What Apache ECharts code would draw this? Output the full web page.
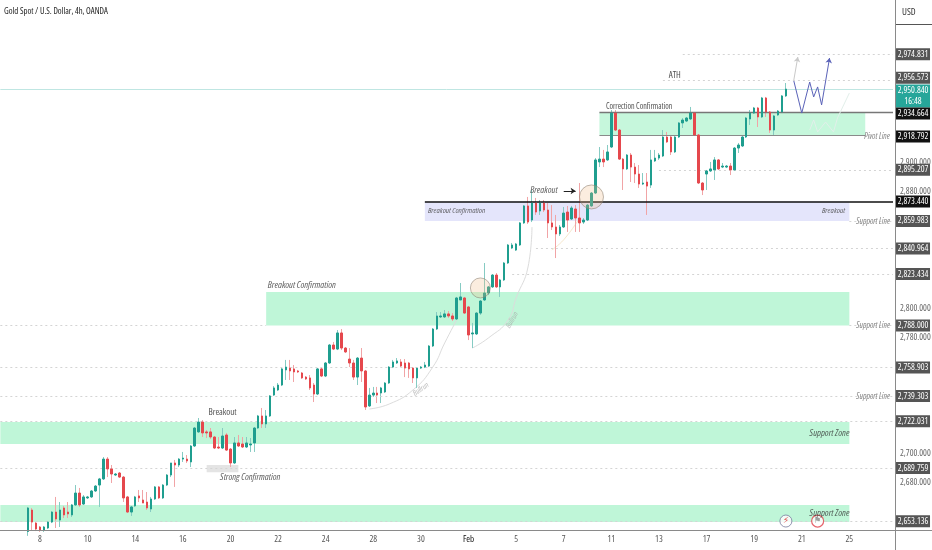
<!DOCTYPE html>
<html><head><meta charset="utf-8"><style>html,body{margin:0;padding:0;background:#fff}#c{width:932px;height:550px}</style>
<script src="https://cdn.jsdelivr.net/npm/echarts@6/dist/echarts.min.js"></script></head><body><div id="c"></div>
<script>
const FIRST_BAR = 7, BAR_COUNT = 226;
const tickLabels = ['8','10','14','16','20','22','24','28','30','Feb','5','7','11','13','17','19','21','25'];
const priceTicks = [2660,2680,2700,2780,2800,2880,2900,2980];
const opens = [2646,2660.8,2651.8,2649.1,2647.0,2648.4,2652.5,2659.4,2653.9,2662.2,
2659.4,2657.4,2664.3,2672.5,2664.9,2669.1,2669.8,2673.9,2678.0,2682.2,
2695.9,2689.1,2684.9,2686.3,2683.5,2669.8,2659.4,2663.6,2670.5,2667.7,
2666.3,2661.5,2668.4,2676.7,2669.1,2678.0,2684.9,2693.2,2691.8,2695.9,
2695.9,2693.9,2704.9,2714.6,2721.4,2714.6,2714.6,2711.1,2704.2,2703.5,
2712.5,2702.8,2693.2,2707.0,2706.3,2704.2,2705.6,2707.0,2717.3,2725.6,
2720.1,2725.6,2740.0,2743.5,2746.9,2757.3,2758.6,2758.0,2756.6,2755.2,
2752.4,2751.8,2746.9,2740.7,2758.0,2753.1,2762.1,2774.5,2771.7,2782.8,
2772.4,2764.8,2762.1,2752.4,2765.5,2756.6,2732.5,2740.0,2741.4,2741.4,
2742.1,2748.3,2759.3,2762.1,2762.8,2762.1,2762.1,2758.6,2751.8,2758.6,
2759.3,2760.0,2773.8,2785.5,2793.8,2793.8,2795.9,2794.5,2792.4,2805.5,
2806.9,2800.7,2782.1,2782.1,2796.5,2805.5,2810.3,2814.5,2822.7,2814.5,
2819.3,2831.0,2841.3,2839.9,2843.4,2858.6,2870.3,2860.6,2872.3,2866.8,
2872.3,2867.5,2858.6,2855.8,2851.0,2855.8,2866.1,2861.3,2868.2,2862.0,
2859.2,2860.6,2870.3,2879.2,2900.6,2902.6,2902.0,2910.9,2934.3,2922.6,
2902.6,2895.8,2905.4,2897.1,2892.3,2885.4,2886.8,2884.7,2901.3,2903.3,
2904.7,2917.8,2917.8,2907.5,2917.8,2927.5,2928.8,2930.2,2934.3,2919.2,
2886.1,2892.3,2894.4,2895.1,2902.0,2897.1,2897.1,2897.8,2895.1,2910.2,
2911.6,2917.8,2930.2,2934.3,2937.8,2931.6,2944.7,2935.0,2922.6,2933.0,
2935.0,2946.1];
const closes = [2662.2,2652.5,2647.7,2647.0,2649.1,2652.5,2659.4,2654.6,2660.8,2657.4,
2658.1,2664.3,2672.5,2664.3,2669.8,2669.8,2673.9,2677.3,2682.2,2695.9,
2689.1,2685.6,2685.6,2683.5,2669.1,2659.4,2662.9,2669.8,2669.1,2665.6,
2662.2,2668.4,2676.7,2669.1,2678.0,2684.9,2693.2,2691.8,2695.9,2696.6,
2694.6,2704.9,2717.3,2721.4,2713.9,2713.9,2711.1,2703.5,2703.5,2711.8,
2702.1,2693.2,2707.0,2704.9,2704.2,2707.0,2706.3,2717.3,2725.6,2720.1,
2725.6,2739.4,2744.9,2746.9,2758.0,2759.3,2756.6,2755.9,2755.9,2751.8,
2751.1,2744.9,2740.7,2758.0,2753.1,2762.1,2774.5,2771.7,2782.8,2772.4,
2769.7,2762.1,2752.4,2765.5,2756.6,2731.8,2740.0,2741.4,2740.0,2744.9,
2748.3,2759.3,2762.8,2763.5,2760.0,2758.6,2758.0,2751.8,2758.6,2759.3,
2760.7,2773.8,2785.5,2794.5,2794.5,2795.9,2794.5,2792.4,2806.9,2807.6,
2796.5,2781.4,2782.8,2796.5,2804.8,2810.3,2814.5,2822.7,2814.5,2819.3,
2831.0,2843.4,2843.4,2844.1,2858.6,2870.3,2859.2,2872.3,2866.1,2872.3,
2867.5,2858.6,2855.8,2851.0,2855.8,2865.4,2860.6,2868.9,2862.0,2858.6,
2860.6,2870.9,2879.2,2902.0,2902.6,2900.6,2907.5,2934.3,2922.6,2902.6,
2895.8,2905.4,2897.1,2892.3,2885.4,2886.1,2884.0,2902.0,2903.3,2905.4,
2917.8,2914.4,2907.5,2917.8,2927.5,2929.5,2930.9,2934.3,2919.2,2886.1,
2881.3,2894.4,2895.8,2902.0,2895.8,2897.8,2897.8,2895.1,2910.2,2912.3,
2917.8,2930.9,2934.3,2937.8,2931.6,2944.7,2935.0,2922.6,2932.3,2935.7,
2946.1,2950.84];
const lows = [2643,2647.0,2646.3,2645.7,2645.7,2647.7,2651.8,2648.4,2649.1,2655.3,
2655.3,2656.0,2663.6,2662.9,2664.3,2668.4,2669.1,2673.2,2662.9,2681.5,
2683.5,2679.4,2684.2,2682.9,2666.3,2658.7,2656.7,2662.9,2666.3,2665.6,
2660.8,2659.4,2667.7,2668.4,2668.4,2677.3,2683.5,2676.7,2690.4,2693.9,
2693.2,2690.4,2704.2,2713.9,2711.1,2710.4,2709.7,2702.8,2702.8,2702.8,
2701.5,2690.4,2692.5,2704.2,2703.5,2703.5,2700.8,2700.8,2716.6,2717.3,
2717.3,2724.9,2739.4,2742.8,2746.2,2750.4,2750.4,2749.0,2755.2,2751.1,
2750.4,2743.5,2735.2,2740.0,2752.4,2752.4,2761.4,2771.0,2771.0,2771.0,
2769.0,2759.3,2750.4,2746.9,2749.0,2729.7,2731.8,2738.7,2734.5,2734.5,
2741.4,2747.6,2758.6,2761.4,2759.3,2752.4,2751.8,2748.3,2744.9,2758.0,
2758.6,2759.3,2773.1,2784.8,2793.1,2793.1,2793.1,2791.0,2791.7,2805.5,
2795.9,2777.9,2772.4,2781.4,2795.2,2804.8,2808.9,2813.8,2813.8,2807.6,
2818.6,2830.3,2840.6,2839.3,2842.7,2857.9,2857.9,2859.2,2864.1,2864.1,
2866.1,2848.2,2853.7,2834.4,2849.6,2855.1,2852.4,2860.6,2852.4,2852.4,
2857.9,2859.9,2869.6,2878.5,2897.1,2897.1,2901.3,2910.2,2921.9,2902.0,
2881.3,2895.1,2886.8,2886.1,2882.7,2884.7,2864.1,2882.7,2900.6,2902.0,
2904.0,2913.7,2905.4,2906.8,2917.1,2924.0,2928.1,2929.5,2918.5,2885.4,
2877.8,2881.3,2893.7,2888.2,2895.1,2896.4,2896.4,2891.6,2894.4,2906.8,
2910.9,2917.1,2926.1,2933.7,2924.7,2930.9,2931.6,2920.6,2919.2,2932.3,
2934.3,2945.4];
const highs = [2662.9,2662.2,2652.5,2649.8,2649.8,2653.2,2660.1,2669.8,2666.3,2663.6,
2666.3,2664.9,2678.0,2676.0,2671.1,2670.5,2674.6,2678.0,2682.9,2697.3,
2697.3,2691.8,2686.3,2687.0,2684.2,2670.5,2663.6,2670.5,2674.6,2674.6,
2673.2,2669.8,2677.3,2677.3,2678.7,2685.6,2693.2,2695.3,2696.6,2700.8,
2698.7,2705.6,2718.0,2724.2,2722.8,2715.9,2717.3,2711.8,2711.1,2717.3,
2713.9,2703.5,2711.1,2712.5,2711.1,2711.1,2710.4,2718.0,2726.3,2731.1,
2729.7,2740.0,2746.2,2748.3,2758.6,2764.2,2764.2,2760.7,2757.3,2755.9,
2753.1,2753.8,2748.3,2758.6,2759.3,2762.8,2775.2,2776.6,2784.8,2785.5,
2773.1,2772.4,2764.2,2766.2,2772.4,2757.3,2744.9,2745.6,2745.6,2745.6,
2749.0,2760.0,2764.2,2765.5,2764.8,2764.8,2762.8,2759.3,2759.3,2760.0,
2762.8,2774.5,2786.2,2797.2,2797.2,2798.6,2797.9,2796.5,2807.6,2817.2,
2807.6,2801.4,2789.7,2797.2,2805.5,2831.0,2815.1,2823.4,2824.1,2820.0,
2831.7,2844.1,2844.8,2844.8,2859.2,2870.9,2876.5,2881.3,2875.8,2874.4,
2874.4,2872.3,2870.9,2864.1,2857.2,2869.6,2870.3,2870.3,2870.9,2886.1,
2862.0,2871.6,2879.9,2903.3,2910.9,2908.9,2912.3,2936.4,2936.4,2923.3,
2903.3,2906.1,2906.8,2899.9,2898.5,2893.0,2893.0,2908.9,2908.9,2906.8,
2922.6,2921.3,2919.2,2918.5,2928.1,2930.9,2931.6,2938.5,2935.0,2919.9,
2886.8,2895.1,2900.6,2904.0,2902.6,2899.9,2898.5,2899.9,2910.9,2913.7,
2918.5,2931.6,2936.4,2938.5,2938.5,2945.4,2945.4,2935.7,2933.0,2936.4,
2946.7,2955.0];

// price tags on the right scale: value, kind, nudge
const tagValues = [2974.831,2956.573,2950.840,2934.664,2918.792,2895.207,2873.440,2859.983,2840.964,2823.434,2788.000,2758.903,2739.303,2722.031,2689.759,2653.136];
const tagKinds  = ['g','g','t','k','k','g','k','g','g','g','g','g','g','g','g','g'];
const tagNudge  = [0,-3,7,1,1,0,0,0,0,0,0,0,0,0,0,0];
const countdown = '16:48';

// zones: from-bar, to-bar, price a, price b, kind
const zoneFrom  = [0,0,67,107,151,52];
const zoneTo    = [214,214,214,214,218,60];
const zoneHigh  = [2664.3,2721.4,2811.0,2873.44,2934.664,2691.8];
const zoneLow   = [2652.5,2706.3,2788.0,2859.983,2918.792,2686.9];
const zoneFill  = ['#bff6d8','#bff6d8','#bff6d8','#e4e5fb','#c6f7dc','#e4e4e4'];

// dotted support lines
const dotFrom  = [172,167,166,135,129,0,214,0,0,0,0,0,214];
const dotTo    = [225,225,225,225,225,67,225,225,225,225,225,225,225];
const dotPrice = [2974.831,2956.573,2895.207,2840.964,2823.434,2788,2788,2758.903,2739.303,2722.031,2689.759,2653.136,2859.983];

const projBarsBlue = [200,202,204,205,206,207,209];
const projBlue     = [2956.4,2934.3,2955.7,2945.4,2952.3,2939.9,2972.2];
const projBarsFaint = [204,205,206,208,210,211,214];
const projFaint     = [2922.6,2929.5,2921.3,2928.1,2921.3,2930.9,2948.1];
const arc1Bars = [93,98,104,109,112,115];
const arc1 = [2730.4,2733.8,2743.5,2759.3,2775.9,2791.7];
const arc2Bars = [119,123,128,130,133,134];
const arc2 = [2772.4,2779.3,2791.7,2806.9,2828.2,2855.8];
const arc3Bars = [139,142,146];
const arc3 = [2840,2847,2862];

const notes = [
 ['Breakout',56,2728.3,'n',0],['Strong Confirmation',63,2683.5,'i',0],
 ['Breakout Confirmation',76,2815.8,'i',0],['Bullrun',106,2744.0,'b',35],['Bullrun',129,2791.7,'b',60],
 ['Breakout Confirmation',115,2866.8,'s',0],['Breakout',210,2866.8,'s',0],['Breakout',137,2881.3,'i',0],
 ['Correction Confirmation',161,2938.5,'c',0],['ATH',170,2960.5,'n',0],['Pivot Line',221,2917.8,'g',0],
 ['Support Line',220,2859.2,'g',0],['Support Line',220,2787.6,'g',0],['Support Line',220,2738.7,'g',0],
 ['Support Zone',209,2713.9,'i',0],['Support Zone',209,2658.7,'i',0]
];

const UP='#1f9e8f', DOWN='#e5484d';
const FONT='"Open Sans"', W='condensed';
const categories = Array.from({length:BAR_COUNT},(_,i)=>{const k=(i-10)/12;return Number.isInteger(k)&&tickLabels[k]?tickLabels[k]:'';});
const pad = Array(FIRST_BAR).fill('-');
const wickData = pad.map(()=>['-','-','-','-']).concat(opens.map((o,i)=>[o,closes[i],lows[i],highs[i]]));
const bodyData = pad.map(()=>['-','-','-','-']).concat(opens.map((o,i)=>[o,closes[i],Math.min(o,closes[i]),Math.max(o,closes[i])]));
const fmt = v=>v.toLocaleString('en-US',{minimumFractionDigits:3,maximumFractionDigits:3});

const seg=(x1,y1,x2,y2,color,width,type,arrow)=>[
 {coord:[x1,y1],symbol:'none',lineStyle:{color,width,type}},
 {coord:[x2,y2],symbol:arrow?'arrow':'none',symbolSize:5}];
const lines=[];
dotPrice.forEach((p,i)=>lines.push(seg(dotFrom[i],p,dotTo[i],p,'#d4d4d4',1,[2,3])));
lines.push(seg(0,2950.84,225,2950.84,'#bfe6e2',1,'solid'));
lines.push(seg(107,2873.44,225,2873.44,'#111',1.6,'solid'));
lines.push(seg(151,2934.664,225,2934.664,'#777',1.3,'solid'));
lines.push(seg(151,2918.792,218,2918.792,'#8a8a8a',1,'solid'));
lines.push(seg(142,2880.6,145,2880.6,'#222',1,'solid',true));
lines.push(seg(200,2957.1,201,2972.9,'#c9c9c9',1,'solid',true));
projBlue.slice(1).forEach((p,i)=>lines.push(seg(projBarsBlue[i],projBlue[i],projBarsBlue[i+1],p,'#5a62b8',1,'solid',i===projBlue.length-2)));
projFaint.slice(1).forEach((p,i)=>lines.push(seg(projBarsFaint[i],projFaint[i],projBarsFaint[i+1],p,'#e2efea',1,'solid')));

const tagRich=(bg,h)=>({backgroundColor:bg,color:'#fff',width:34,height:h,lineHeight:h,align:'center',fontSize:9,fontFamily:FONT,fontWeight:W});
const tags=tagValues.map((v,i)=>({coord:[225,v],symbol:'rect',symbolSize:0,
 label:{show:true,position:'right',distance:3,offset:[0,tagNudge[i]],
  formatter:tagKinds[i]==='t'?`{t|${fmt(v)}}\n{t|${countdown}}`:`{${tagKinds[i]}|${fmt(v)}}`,
  rich:{g:tagRich('#555',12),k:tagRich('#111',12),t:tagRich('#26a69a',11.5)}}}));

const noteStyle={
 n:{fontSize:9,color:'#222'},c:{fontSize:8,color:'#222'},i:{fontSize:9.5,color:'#333',fontStyle:'italic'},
 s:{fontSize:8,color:'#444',fontStyle:'italic'},g:{fontSize:8.5,color:'#666',fontStyle:'italic'},
 b:{fontSize:7.5,color:'#aaa',fontStyle:'italic'}};

const arc=(bars,vals,color)=>({type:'line',data:bars.map((b,i)=>[b,vals[i]]),smooth:true,showSymbol:false,silent:true,z:1,
 lineStyle:{color,width:1}});

echarts.init(document.getElementById('c'),null,{renderer:'canvas'}).setOption({
 animation:false,backgroundColor:'#fff',
 title:{text:'Gold Spot / U.S. Dollar, 4h, OANDA',left:4,top:7,padding:0,textStyle:{fontFamily:FONT,fontSize:8.7,color:'#222',fontWeight:W}},
 grid:{left:-1.64,width:896.64,top:0,height:530.5,containLabel:false,outerBoundsMode:'none'},
 xAxis:{type:'category',data:categories,boundaryGap:true,
  axisLine:{show:false},axisTick:{show:false},splitLine:{show:false},
  axisLabel:{interval:0,margin:4,fontFamily:FONT,fontWeight:W,fontSize:9,color:'#555',hideOverlap:false,
   formatter:v=>v==='Feb'?'{b|Feb}':v,rich:{b:{color:'#111',fontFamily:FONT,fontSize:9,fontWeight:W}}}},
 yAxis:{type:'value',position:'right',min:2646.68,max:3012.2,
  axisLine:{show:false},axisTick:{show:false},splitLine:{show:false},
  axisLabel:{customValues:priceTicks,margin:5,fontFamily:FONT,fontWeight:W,fontSize:9,color:'#666',
   formatter:v=>fmt(v),showMinLabel:false,showMaxLabel:false}},
 graphic:[
  {type:'line',shape:{x1:895.5,y1:0,x2:895.5,y2:550},style:{stroke:'#8a8a8a',lineWidth:1},z:20},
  {type:'line',shape:{x1:0,y1:530.5,x2:932,y2:530.5},style:{stroke:'#8a8a8a',lineWidth:1},z:20},
  {type:'line',shape:{x1:896,y1:24.5,x2:932,y2:24.5},style:{stroke:'#555',lineWidth:1},z:20},
  {type:'text',left:902,top:7,style:{text:'USD',fontFamily:FONT,fontWeight:W,fontSize:9.5,fill:'#333'},z:20}
 ],
 series:[
  {type:'candlestick',name:'wicks',data:wickData,barWidth:1,z:2,silent:true,
   itemStyle:{color:'#86cbc3',color0:'#f1a4a6',borderColor:'#86cbc3',borderColor0:'#f1a4a6',borderWidth:1},
   markArea:{silent:true,z:1,data:zoneFill.map((c,i)=>[{coord:[zoneFrom[i],zoneHigh[i]],itemStyle:{color:c}},{coord:[zoneTo[i],zoneLow[i]]}])},
   markLine:{silent:true,z:3,animation:false,label:{show:false},symbol:['none','none'],data:lines}},
  {type:'candlestick',name:'bodies',data:bodyData,barWidth:2,z:3,silent:true,
   itemStyle:{color:UP,color0:DOWN,borderColor:UP,borderColor0:DOWN,borderWidth:1},
   markPoint:{silent:true,z:10,animation:false,data:tags}},
  arc(arc1Bars,arc1,'#dcdcdc'),arc(arc2Bars,arc2,'#dcdcdc'),arc(arc3Bars,arc3,'#f6e7cc'),
  {type:'scatter',name:'circles',silent:true,z:4,data:[{value:[121,2813.8],symbolSize:20},{value:[149,2876.5],symbolSize:24}],
   itemStyle:{color:'rgba(240,185,130,.32)',borderColor:'#8a7d70',borderWidth:.7}},
  {type:'scatter',name:'notes',silent:true,z:6,symbolSize:1,itemStyle:{color:'rgba(0,0,0,0)'},
   data:notes.map(n=>({value:[n[1],n[2]],label:Object.assign({show:true,position:'inside',formatter:n[0],rotate:n[4],fontFamily:FONT,fontWeight:W},noteStyle[n[3]])}))},
  {type:'scatter',name:'events',silent:true,z:6,symbolSize:12,
   data:[
    {value:[198,2653.2],itemStyle:{color:'#fff',borderColor:'#777c9c',borderWidth:1},label:{show:true,position:'inside',formatter:'⚡',fontSize:8.5,color:'#d33',fontFamily:'DejaVu Sans'}},
    {value:[206,2653.2],itemStyle:{color:'#fff',borderColor:'#e0404a',borderWidth:1.2},label:{show:true,position:'inside',formatter:'⚑',fontSize:8.5,color:'#888',fontFamily:'DejaVu Sans'}}]}
 ]
});
</script></body></html>
